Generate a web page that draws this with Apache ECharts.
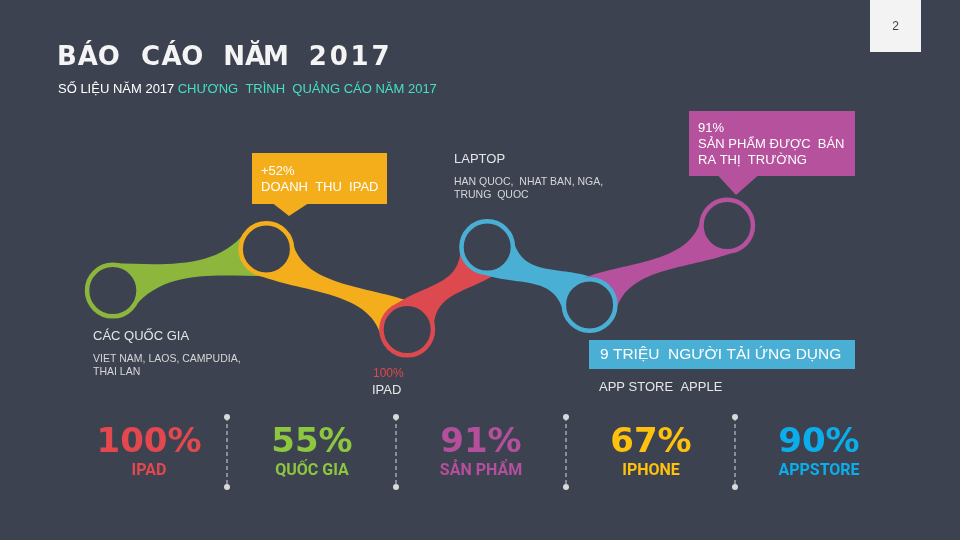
<!DOCTYPE html>
<html><head><meta charset="utf-8">
<script src="https://cdn.jsdelivr.net/npm/echarts@6/dist/echarts.min.js"></script>
<style>html,body{margin:0;padding:0;background:#3d4251;}#c{width:960px;height:540px;}</style>
</head><body><div id="c"></div>
<script>
// ---- data ----
const nodeNames = ['Các quốc gia', 'Doanh thu iPad', 'iPad', 'Laptop', 'App Store', 'Sản phẩm'];
const nodeX = [2, 26, 48, 60.5, 76.5, 98];
const nodeY = [38, 70, 8, 71.5, 27, 88];
const statValues = [100, 55, 91, 67, 90];
const statLabels = ['IPAD', 'QUỐC GIA', 'SẢN PHẨM', 'IPHONE', 'APPSTORE'];
const titleText = 'BÁO CÁO NĂM 2017';
const subtitleA = 'SỐ LIỆU NĂM 2017';
const subtitleB = 'CHƯƠNG  TRÌNH  QUẢNG CÁO NĂM 2017';
const calloutOrange = ['+52%', 'DOANH  THU  IPAD'];
const calloutPurple = ['91%', 'SẢN PHẨM ĐƯỢC  BÁN', 'RA THỊ  TRƯỜNG'];
const calloutBlue = '9 TRIỆU  NGƯỜI TẢI ỨNG DỤNG';
const noteApp = 'APP STORE  APPLE';
const noteLaptop = ['LAPTOP', 'HAN QUOC,  NHAT BAN, NGA,', 'TRUNG  QUOC'];
const noteCountries = ['CÁC QUỐC GIA', 'VIET NAM, LAOS, CAMPUDIA,', 'THAI LAN'];
const noteIpad = ['100%', 'IPAD'];
const pageNumber = '2';

// ---- styles ----
const BG = '#3d4251';
const nodeColors = ['#8cb73c', '#f4ae1b', '#dc4a4f', '#4aafd5', '#4aafd5', '#b6529d'];
const ribbonColors = ['#8cb73c', '#f4ae1b', '#dc4a4f', '#4aafd5', '#b6529d'];
const statColors = ['#e2484e', '#8dc63f', '#b34f9b', '#fec10e', '#0aaeea'];
const FONT = '"Liberation Sans", Arial, sans-serif';

const nodes = nodeX.map((x, i) => ({ name: nodeNames[i], value: [x, nodeY[i]], itemStyle: { borderColor: nodeColors[i] } }));
const links = [];
for (let i = 0; i < nodeX.length - 1; i++) links.push([nodeX[i], nodeY[i], nodeX[i + 1], nodeY[i + 1]]);

function ribbon(params, api) {
  const a = api.coord([api.value(0), api.value(1)]);
  const b = api.coord([api.value(2), api.value(3)]);
  const R = 27, W = 8;
  const d = Math.atan2(b[1] - a[1], b[0] - a[0]);
  const base = 64 * Math.PI / 180, lim = 20 * Math.PI / 180;
  const bias = Math.max(-lim, Math.min(lim, -0.7 * d));
  function edge(s, pA, pB) {
    const tA = d + s * pA, tB = d + Math.PI - s * pB;
    const P0 = [a[0] + R * Math.cos(tA), a[1] + R * Math.sin(tA)];
    const P3 = [b[0] + R * Math.cos(tB), b[1] + R * Math.sin(tB)];
    const uA = [s * Math.sin(tA), -s * Math.cos(tA)];
    const uB = [-s * Math.sin(tB), s * Math.cos(tB)];
    let h = ((R * (Math.sin(pA) + Math.sin(pB)) / 2 - W) * 8 / 3) / (Math.cos(pA) + Math.cos(pB));
    const span = Math.hypot(P3[0] - P0[0], P3[1] - P0[1]);
    h = Math.min(h, 0.42 * span);
    return { P0, P3, c1: [P0[0] + h * uA[0], P0[1] + h * uA[1]], c2: [P3[0] + h * uB[0], P3[1] + h * uB[1]] };
  }
  const t = edge(-1, base + bias, base - bias);
  const bt = edge(1, base - bias, base + bias);
  const p = v => v[0].toFixed(2) + ' ' + v[1].toFixed(2);
  const pathData = 'M' + p(t.P0) + 'C' + p(t.c1) + ' ' + p(t.c2) + ' ' + p(t.P3) +
    'L' + p(bt.P3) + 'C' + p(bt.c2) + ' ' + p(bt.c1) + ' ' + p(bt.P0) + 'Z';
  return { type: 'path', shape: { pathData }, style: { fill: ribbonColors[params.dataIndex] } };
}

function txt(x, y, text, size, fill, extra) {
  return {
    type: 'text', x, y, z: 10,
    style: Object.assign({ text, fill, font: size + 'px ' + FONT, verticalAlign: 'middle', textAlign: 'left' }, extra || {})
  };
}

const g = [];
[...titleText].forEach((ch, i) => {
  g.push({ type: 'text', x: 67 + i * 20.9, y: 58, z: 10,
    style: { text: ch, fill: '#f4f4f4', font: 'bold 26px "DejaVu Sans"', textAlign: 'center', verticalAlign: 'middle' } });
});
g.push({ type: 'text', x: 58, y: 89, z: 10, style: {
  text: '{a|' + subtitleA + '} {b|' + subtitleB + '}', verticalAlign: 'middle',
  rich: { a: { fill: '#ffffff', font: '13px ' + FONT }, b: { fill: '#45e0c3', font: '13px ' + FONT } } } });
g.push({ type: 'rect', z: 10, shape: { x: 870, y: 0, width: 51, height: 52 }, style: { fill: '#f3f3f3' } });
g.push(txt(895.5, 27, pageNumber, 12, '#3d4251', { textAlign: 'center' }));
g.push({ type: 'rect', z: 10, shape: { x: 252, y: 153, width: 135, height: 51 }, style: { fill: '#f4ae1b' } });
g.push({ type: 'polygon', z: 10, shape: { points: [[273, 203.5], [308, 203.5], [289, 216]] }, style: { fill: '#f4ae1b' } });
g.push(txt(261, 171.5, calloutOrange[0], 13, '#ffffff'));
g.push(txt(261, 187.5, calloutOrange[1], 13, '#ffffff'));
g.push({ type: 'rect', z: 10, shape: { x: 689, y: 111, width: 166, height: 65 }, style: { fill: '#b6529d' } });
g.push({ type: 'polygon', z: 10, shape: { points: [[718, 175.5], [758, 175.5], [736, 195]] }, style: { fill: '#b6529d' } });
calloutPurple.forEach((s, i) => g.push(txt(698, 128.5 + i * 16, s, 13, '#ffffff')));
g.push({ type: 'rect', z: 10, shape: { x: 589, y: 340, width: 266, height: 29 }, style: { fill: '#4aafd5' } });
g.push(txt(600, 355, calloutBlue, 15.5, '#ffffff'));
g.push(txt(599, 387.5, noteApp, 13, '#e6e6e6'));
g.push(txt(454, 159, noteLaptop[0], 13, '#e6e6e6'));
g.push(txt(454, 182, noteLaptop[1], 10.5, '#d6d6d6'));
g.push(txt(454, 195, noteLaptop[2], 10.5, '#d6d6d6'));
g.push(txt(93, 336.5, noteCountries[0], 13, '#e6e6e6'));
g.push(txt(93, 359, noteCountries[1], 10.5, '#d6d6d6'));
g.push(txt(93, 372, noteCountries[2], 10.5, '#d6d6d6'));
g.push(txt(373, 374, noteIpad[0], 12, '#e0474c'));
g.push(txt(372, 390, noteIpad[1], 13, '#e6e6e6'));
const statX = [149, 312, 481, 651, 819];
const sepX = [227, 396, 566, 735];
sepX.forEach(x => {
  g.push({ type: 'line', z: 10, shape: { x1: x, y1: 417, x2: x, y2: 487 }, style: { stroke: '#d9d9d9', lineWidth: 1, lineDash: [4, 3] } });
  g.push({ type: 'circle', z: 10, shape: { cx: x, cy: 417, r: 3 }, style: { fill: '#d9d9d9' } });
  g.push({ type: 'circle', z: 10, shape: { cx: x, cy: 487, r: 3 }, style: { fill: '#d9d9d9' } });
});
statValues.forEach((v, i) => {
  g.push({ type: 'text', x: statX[i], y: 443, z: 10, style: { text: v + '%', fill: statColors[i], font: 'bold 34px "DejaVu Sans"', textAlign: 'center', verticalAlign: 'middle' } });
  g.push({ type: 'text', x: statX[i], y: 471, z: 10, style: { text: statLabels[i], fill: statColors[i], font: 'bold 16px Roboto', textAlign: 'center', verticalAlign: 'middle' } });
});

const chart = echarts.init(document.getElementById('c'), null, { renderer: 'canvas' });
chart.setOption({
  backgroundColor: BG,
  animation: false,
  grid: { left: 100, right: 220, top: 210, bottom: 200 },
  xAxis: { type: 'value', min: 0, max: 100, show: false },
  yAxis: { type: 'value', min: 0, max: 100, show: false },
  series: [
    { type: 'custom', data: links, renderItem: ribbon, clip: false, silent: true, z: 1 },
    { type: 'scatter', data: nodes, symbol: 'circle', symbolSize: 51.5, clip: false, silent: true, z: 2,
      itemStyle: { color: BG, borderWidth: 4.5, opacity: 1 },
      emphasis: { disabled: true } }
  ],
  graphic: g
});
</script></body></html>
